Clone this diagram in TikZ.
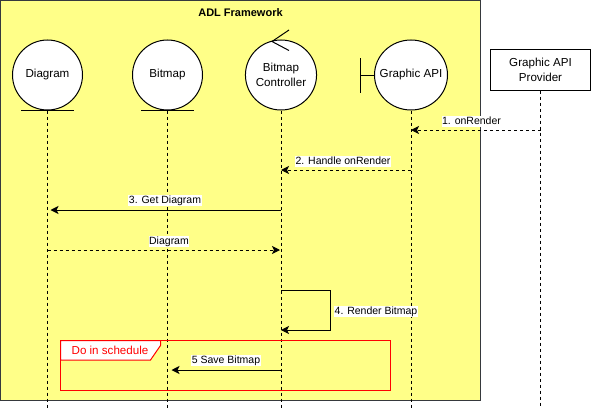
\documentclass[tikz,border=0pt]{standalone}
\usepackage{fontspec}
\setmainfont{Liberation Sans}
\usetikzlibrary{arrows.meta,positioning,shapes.geometric}
\definecolor{framefill}{HTML}{FFFF88}
\definecolor{frameline}{HTML}{36393D}
\definecolor{fragred}{HTML}{FF0000}

\begin{document}
\begin{tikzpicture}[x=1pt,y=-1pt,line width=1pt,
    actor/.style={
    % The shape:
    ellipse,inner sep=0pt,minimum width=70pt,minimum height=70pt,
    % The rest
    draw=black,fill=white,align=center,
    font=\fontsize{11.6}{14.5}\selectfont},
    provider/.style={
    rectangle,minimum width=100pt,minimum height=40pt,inner sep=0pt,
    draw=black,fill=white,align=center,
    font=\fontsize{11.6}{14.5}\selectfont},
    msglabel/.style={
    fill=white,inner xsep=0.5pt,inner ysep=0.5pt,text height=8pt,text depth=2pt,
    font=\fontsize{10.5}{13}\selectfont},
    lifeline/.style={dashed,dash pattern=on 3pt off 3pt},
    sync/.style={-{Stealth[length=8pt,width=8pt,inset=2pt]}},
    reply/.style={sync,dash pattern=on 3pt off 3pt}]
    \useasboundingbox (0,0) rectangle (591,412);
    % framework box
    \path [draw=frameline,fill=framefill] (0.5,0.5) rectangle (480.5,400.5);
    \node (title) [font=\fontsize{11}{14}\selectfont\bfseries] at (240.5,13) {ADL Framework};
    % participants
    \node (diagram) [actor] at (47.5,75) {Diagram};
    \node (bitmap) [actor] at (167.5,75) {Bitmap};
    \node (controller) [actor] at (281,75) {Bitmap\\Controller};
    \node (gapi) [actor,minimum width=73pt] at (411,75) {\makebox[0pt][c]{Graphic API}};
    \node (apiprovider) [provider] at (540.5,70) {Graphic API\\Provider};
    % lifeline ends
    \coordinate (bottom) at (0,408);
    \draw [lifeline] (diagram.south) -- (diagram.south |- bottom);
    \draw [lifeline] (bitmap.south) -- (bitmap.south |- bottom);
    \draw [lifeline] (controller.south) -- (controller.south |- bottom);
    \draw [lifeline] (gapi.south) -- (gapi.south |- bottom);
    \draw [lifeline] (apiprovider.south) -- (apiprovider.south |- bottom);
    % stereotypes
    \draw ([xshift=-26.5pt]diagram.south) -- ([xshift=26.5pt]diagram.south);
    \draw ([xshift=-26.5pt]bitmap.south) -- ([xshift=26.5pt]bitmap.south);
    \coordinate (apex) at (272,41.5);
    \draw (289,30) -- (apex) -- (289,50.5);
    \coordinate (barmid) at (360.5,75.5);
    \draw (gapi.west |- barmid) -- (barmid);
    \draw ([yshift=-17pt]barmid) -- ([yshift=17pt]barmid);
    % messages
    \coordinate (m1) at (0,130);
    \coordinate (m2) at (0,170);
    \coordinate (m3) at (0,210);
    \coordinate (m4) at (0,250);
    \coordinate (m5) at (0,290);
    \coordinate (m6) at (0,330);
    \coordinate (m7) at (0,370);
    \coordinate (loopx) at (330,0);
    \draw [reply] (apiprovider.south |- m1) -- (gapi.south |- m1);
    \draw [reply] (gapi.south |- m2) -- (controller.south |- m2);
    \draw [sync] (controller.south |- m3) -- ([xshift=3pt]diagram.south |- m3);
    \draw [reply] (diagram.south |- m4) -- ([xshift=-1pt]controller.south |- m4);
    \draw [sync] (controller.south |- m5) -- (loopx |- m5) -- (loopx |- m6) -- (controller.south |- m6);
    \draw [sync] (controller.south |- m7) -- ([xshift=4pt]bitmap.south |- m7);
    \node (l1) [msglabel] at (471.5,121) {1. onRender};
    \node (l2) [msglabel] at (343,161) {2. Handle onRender};
    \node (l3) [msglabel] at (165,200) {3. Get Diagram};
    \node (l4) [msglabel] at (169,241) {Diagram};
    \node (l5) [msglabel] at (376,311) {4. Render Bitmap};
    \node (l6) [msglabel] at (226,360) {5 Save Bitmap};
    % schedule fragment
    \path [draw=fragred] (60.5,340.5) rectangle (390.5,390.5);
    \path [draw=fragred,fill=white] (60.5,340.5) -- (160.5,340.5) -- (160.5,345.5)
      -- (150.5,360) -- (60.5,360) -- cycle;
    \node (schedule) [text=fragred,font=\fontsize{11.6}{14.5}\selectfont] at (110,350) {Do in schedule};
\end{tikzpicture}
\end{document}
